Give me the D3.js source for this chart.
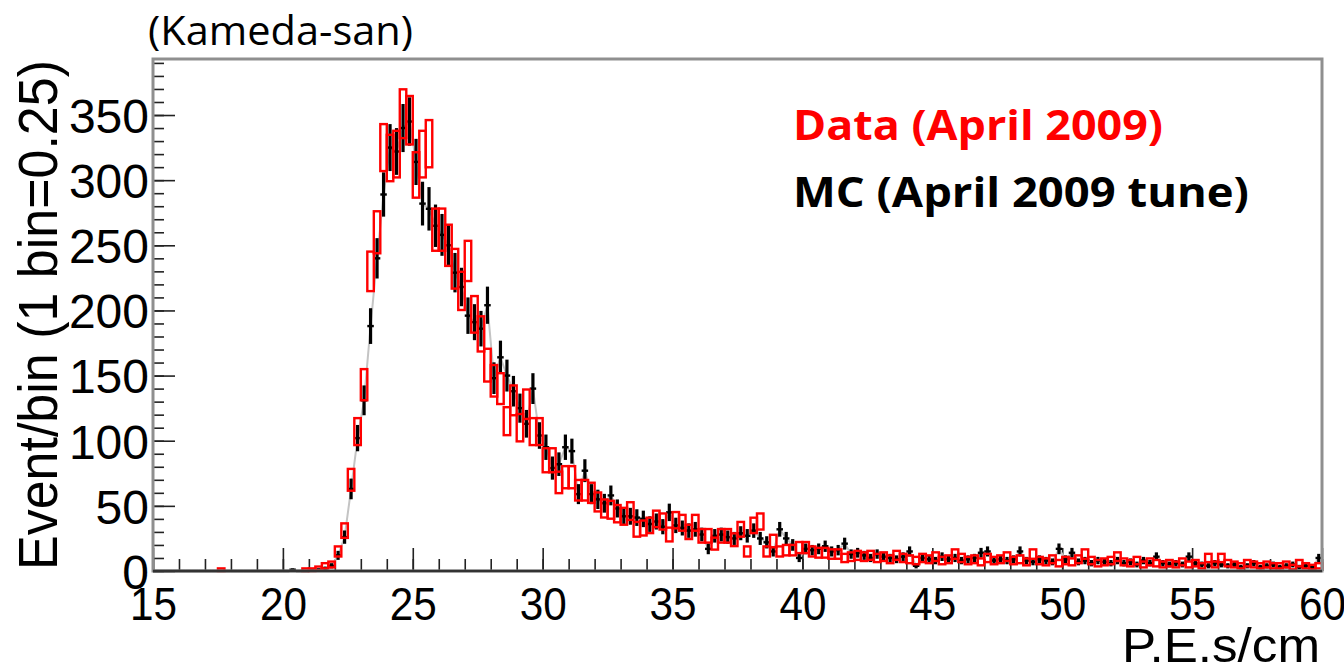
<!DOCTYPE html>
<html>
<head>
<meta charset="utf-8">
<script src="https://cdn.jsdelivr.net/npm/d3@7"></script>
<style>
  html, body { margin: 0; padding: 0; background: #fff; }
  svg { display: block; }
</style>
</head>
<body>
<svg id="chart" width="1344" height="670"></svg>
<script>
// ---- data (bins of 0.25 P.E.s/cm starting at 15) ----
const binStart = 15;
const binWidth = 0.25;

// Data (April 2009) – red boxes
const dataValues = [
  0,0,0,0, 0,0,0,0, 0,0,1,0, 0,0,0,0, 0,0,0,0, 0,0,0,1, 1,2,4,5,
  15,31,70,107,143,230,260,325,317,320,351,346,304,320,328,262,262,250,232,215,
  238,197,182,158,146,140,115,131,110,128,107,107,85,85,68,72,72,62,62,
  60,53,48,47,44,42,46,32,33,35,40,38,28,39,37,30,37,27,27,21,
  27,27,24,32,15,35,38,15,23,15,16,16,18,18,15,14,14,13,13,10,11,12,
  11,12,10,11,9,12,10,9,
  8,10,9,11,8,9,13,10,
  8,9,7,10,8,9,11,8,
  9,7,13,8,7,9,6,8,
  7,9,13,8,6,7,8,11,
  7,6,8,5,7,6,5,6,
  5,7,5,6,4,10,5,10,
  6,5,4,6,5,4,5,4,
  4,5,3,6,4,3,4
];

// MC (April 2009 tune) – black crosses
const mcValues = [
  0,0,0,0, 0,0,0,0, 0,0,0,0, 0,0,0,0, 0,0,0,0, 0,1,0,0, 1,1,2,4,
  12,26,63,102,131,188,240,289,325,322,340,345,314,282,278,265,258,250,229,218,
  196,191,186,204,148,164,150,138,125,113,140,104,95,79,82,95,92,59,77,
  59,55,52,58,48,42,42,41,40,36,38,34,45,35,33,31,32,28,17,27,
  28,26,25,29,27,31,25,22,15,32,25,20,10,17,16,17,19,15,16,21,13,14,
  12,10,13,11,10,9,11,15,
  4,10,9,8,11,9,10,8,
  9,10,14,15,8,9,8,9,
  15,8,7,9,8,7,17,9,
  14,7,8,6,8,7,6,8,
  6,7,5,8,6,11,6,5,
  6,5,11,6,5,4,6,5,
  4,5,3,4,6,3,4,5,
  3,4,5,3,4,3,10
];

const xTickLabels = [15,20,25,30,35,40,45,50,55,60];
const yTickLabels = [0,50,100,150,200,250,300,350];

const legendLabels = ["Data (April 2009)", "MC (April 2009 tune)"];
const legendColors = ["#ff0000", "#000000"];

// ---- drawing ----
const svg = d3.select("#chart");
const x = d3.scaleLinear().domain([15, 60]).range([153, 1322]);
const y = d3.scaleLinear().domain([0, 393]).range([571, 59]);

const bins = dataValues.map((v, i) => ({
  lo: binStart + i * binWidth,
  hi: binStart + (i + 1) * binWidth,
  c: binStart + (i + 0.5) * binWidth,
  data: v,
  mc: mcValues[i]
}));

// y axis title (drawn first so tick labels sit over it)
svg.append("text")
  .attr("transform", `translate(57,${(y(0) + y(393)) / 2}) rotate(-90)`)
  .attr("text-anchor", "middle")
  .attr("font-family", "Liberation Sans, Arial, sans-serif")
  .attr("font-size", 56)
  .attr("fill", "#000")
  .attr("textLength", 510)
  .attr("lengthAdjust", "spacingAndGlyphs")
  .text("Event/bin (1 bin=0.25)");

// axis ticks (inward)
const gx = svg.append("g").attr("transform", `translate(0,${y(0)})`);
gx.call(d3.axisBottom(x).tickValues(d3.range(15, 61, 1)).tickSize(-12).tickFormat(""));
gx.select(".domain").remove();
const gxMaj = svg.append("g").attr("transform", `translate(0,${y(0)})`);
gxMaj.call(d3.axisBottom(x).tickValues(xTickLabels).tickSize(-23).tickPadding(15).tickFormat(d3.format("d")));
gxMaj.select(".domain").remove();
gxMaj.selectAll("text")
  .attr("font-family", "Liberation Sans, Arial, sans-serif")
  .attr("font-size", 47)
  .attr("fill", "#000")
  .attr("dy", "0.72em")
  .attr("textLength", d => String(d).length * 23.5)
  .attr("lengthAdjust", "spacingAndGlyphs");

const gy = svg.append("g").attr("transform", `translate(${x(15)},0)`);
gy.call(d3.axisLeft(y).tickValues(d3.range(0, 391, 10)).tickSize(-11).tickFormat(""));
gy.select(".domain").remove();
const gyMaj = svg.append("g").attr("transform", `translate(${x(15)},0)`);
gyMaj.call(d3.axisLeft(y).tickValues(yTickLabels).tickSize(-22).tickPadding(4).tickFormat(d3.format("d")));
gyMaj.select(".domain").remove();
gyMaj.selectAll("text")
  .attr("font-family", "Liberation Sans, Arial, sans-serif")
  .attr("font-size", 48)
  .attr("fill", "#000")
  .attr("dy", "0.36em");
svg.selectAll("g.tick line").attr("stroke", "#222").attr("stroke-width", 1.6);

// gray MC line
const line = d3.line().x(d => x(d.c)).y(d => y(d.mc));
svg.append("path")
  .datum(bins.filter(d => d.c > 21))
  .attr("d", line)
  .attr("fill", "none")
  .attr("stroke", "#c4c4c4")
  .attr("stroke-width", 2);

// MC crosses
const mcG = svg.append("g").attr("stroke", "#000");
mcG.selectAll("line.h").data(bins).join("line")
  .attr("class", "h")
  .attr("x1", d => x(d.lo)).attr("x2", d => x(d.hi))
  .attr("y1", d => y(d.mc)).attr("y2", d => y(d.mc))
  .attr("stroke-width", 2.4);
mcG.selectAll("line.v").data(bins.filter(d => d.mc > 0)).join("line")
  .attr("class", "v")
  .attr("x1", d => x(d.c)).attr("x2", d => x(d.c))
  .attr("y1", d => y(d.mc + Math.sqrt(d.mc))).attr("y2", d => y(Math.max(0, d.mc - Math.sqrt(d.mc))))
  .attr("stroke-width", 3.2);

// Data boxes
svg.append("g").selectAll("rect").data(bins.filter(d => d.data > 0)).join("rect")
  .attr("x", d => x(d.lo))
  .attr("width", d => x(d.hi) - x(d.lo))
  .attr("y", d => y(d.data + Math.sqrt(d.data)))
  .attr("height", d => y(Math.max(0, d.data - Math.sqrt(d.data))) - y(d.data + Math.sqrt(d.data)))
  .attr("fill", "none")
  .attr("stroke", "#ff0000")
  .attr("stroke-width", 2.4);

// frame
svg.append("rect")
  .attr("x", x(15)).attr("y", y(393))
  .attr("width", x(60) - x(15)).attr("height", y(0) - y(393))
  .attr("fill", "none").attr("stroke", "#8f8f8f").attr("stroke-width", 3);
svg.append("line")
  .attr("x1", x(15)).attr("x2", x(60)).attr("y1", y(0)).attr("y2", y(0))
  .attr("stroke", "#333").attr("stroke-width", 2.5);

svg.append("text")
  .attr("x", 1320).attr("y", 662)
  .attr("text-anchor", "end")
  .attr("font-family", "Liberation Sans, Arial, sans-serif")
  .attr("font-size", 48)
  .attr("fill", "#000")
  .attr("textLength", 198)
  .attr("lengthAdjust", "spacingAndGlyphs")
  .text("P.E.s/cm");

svg.append("text")
  .attr("x", 148).attr("y", 45)
  .attr("font-family", "Open Sans, Noto Sans, sans-serif")
  .attr("font-size", 40)
  .attr("fill", "#000")
  .attr("textLength", 265)
  .attr("lengthAdjust", "spacingAndGlyphs")
  .text("(Kameda-san)");

// legend
const legendWidths = [370, 456];
svg.append("g").selectAll("text").data(legendLabels).join("text")
  .attr("x", 793)
  .attr("y", (d, i) => 140 + i * 67)
  .attr("font-family", "Open Sans, Noto Sans, sans-serif")
  .attr("font-weight", "bold")
  .attr("font-size", 41)
  .attr("fill", (d, i) => legendColors[i])
  .attr("textLength", (d, i) => legendWidths[i])
  .attr("lengthAdjust", "spacingAndGlyphs")
  .text(d => d);
</script>
</body>
</html>
